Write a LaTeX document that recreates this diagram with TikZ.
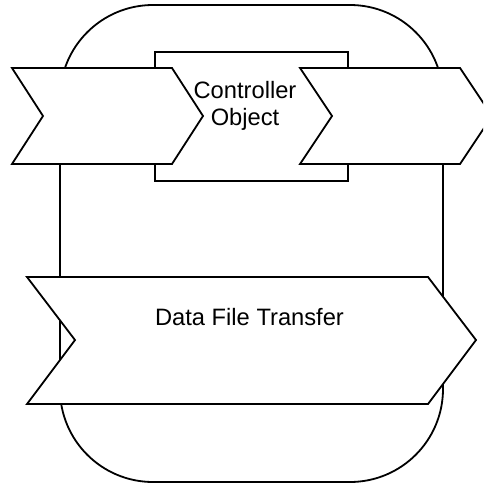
\documentclass[tikz,border=0pt]{standalone}
\usepackage{fontspec}
\setmainfont{Liberation Sans}
\begin{document}
\begin{tikzpicture}[x=1pt, y=-1pt,
  shapeline/.style={draw=black, fill=white, line width=1.8pt, line join=miter},
  lbl/.style={font=\fontsize{23.7}{27}\selectfont, align=center, inner sep=0pt, text=black}]
\useasboundingbox (0,0) rectangle (483,487);
\clip (0,0) rectangle (483,487);

% outer rounded frame
\draw[shapeline, rounded corners=93pt] (60,5) rectangle (443,482);

% controller object box
\draw[shapeline] (155,52) rectangle (348,181);

% incoming and outgoing step arrows
\draw[shapeline] (12,68) -- (172,68) -- (203,116) -- (172,164) -- (12,164) -- (43,116) -- cycle;
\draw[shapeline] (300,68) -- (460,68) -- (492,116) -- (460,164) -- (300,164) -- (332,116) -- cycle;

% data file transfer step
\draw[shapeline] (27,277) -- (428,277) -- (476,340) -- (428,404) -- (27,404) -- (75,340) -- cycle;

% labels
\node[lbl] (ctrl) at (245,105.5) {Controller\\Object};
\node[lbl, anchor=base] (dft) at (249.5,325) {Data File Transfer};
\end{tikzpicture}
\end{document}
